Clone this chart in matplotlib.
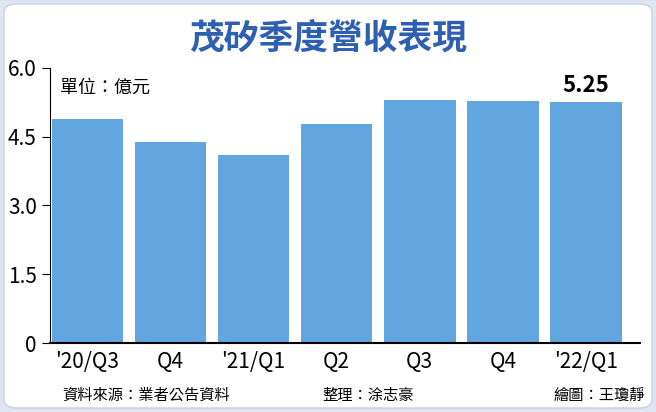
import matplotlib
matplotlib.use("Agg")
import matplotlib.pyplot as plt
from matplotlib.patches import FancyBboxPatch

plt.rcParams['font.family'] = ['Noto Sans CJK TC', 'DejaVu Sans']

categories = ["'20/Q3", "Q4", "'21/Q1", "Q2", "Q3", "Q4", "'22/Q1"]
values = [4.89, 4.39, 4.10, 4.78, 5.30, 5.28, 5.25]
yticks = [0, 1.5, 3.0, 4.5, 6.0]
ytick_labels = ["0", "1.5", "3.0", "4.5", "6.0"]

W, H = 656, 412
fig = plt.figure(figsize=(W/100, H/100), dpi=100)
fig.patch.set_facecolor('#dfe6f2')
bg = FancyBboxPatch((4/W, 4/H), (W-8)/W, (H-8)/H,
    boxstyle="round,pad=0,rounding_size=0.02", transform=fig.transFigure,
    facecolor='white', edgecolor='#c8d2e4', lw=1, zorder=-10)
fig.patches.append(bg)

ax = fig.add_axes([50/W, (H-343)/H, (640-50)/W, (343-68)/H])
ax.set_zorder(5)
ax.set_facecolor('none')
x = range(len(categories))
ax.bar(x, values, width=0.86, color='#62a6e0', zorder=2)
ax.set_xlim(-0.45, 6.65)
ax.set_ylim(0, 6.0)
ax.set_yticks(yticks)
ax.set_yticklabels(ytick_labels, fontsize=15)
ax.set_xticks(list(x))
ax.set_xticklabels(categories, fontsize=15)
for s in ['top', 'right']:
    ax.spines[s].set_visible(False)
ax.spines['left'].set_color('black')
ax.spines['bottom'].set_color('black')
ax.spines['bottom'].set_linewidth(1.5)
ax.tick_params(axis='y', length=6, direction='out')
ax.tick_params(axis='x', length=0, pad=6)
ax.text(6, values[-1] + 0.12, f"{values[-1]:.2f}", ha='center', va='bottom',
        fontsize=16, fontweight='bold')

fig.text(0.5, (H-38)/H, "茂矽季度營收表現", ha='center', va='center',
         fontsize=25, fontweight='bold', color='#2f5fb0', zorder=6)
fig.text(60/W, (H-88)/H, "單位：億元", ha='left', va='center', fontsize=13, zorder=6)
fig.text(62/W, (H-395)/H, "資料來源：業者公告資料", ha='left', va='center', fontsize=11, zorder=6)
fig.text(322/W, (H-395)/H, "整理：涂志豪", ha='left', va='center', fontsize=11, zorder=6)
fig.text(645/W, (H-395)/H, "繪圖：王瓊靜", ha='right', va='center', fontsize=11, zorder=6)

fig.savefig("out.png", dpi=100, facecolor=fig.get_facecolor())
